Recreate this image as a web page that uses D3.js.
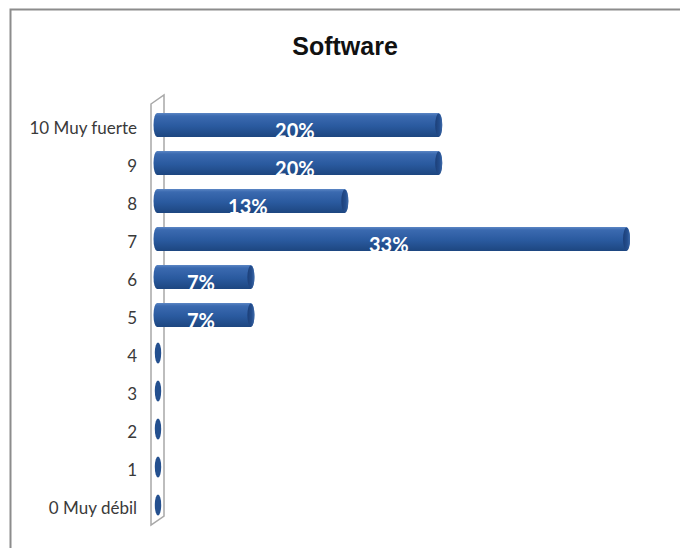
<!DOCTYPE html>
<html><head><meta charset="utf-8">
<script src="https://cdn.jsdelivr.net/npm/d3@7"></script>
<style>html,body{margin:0;padding:0;background:#fff;overflow:hidden}</style>
</head><body>
<svg id="c" width="680" height="548"></svg>
<script>
const categories = ["10 Muy fuerte","9","8","7","6","5","4","3","2","1","0 Muy débil"];
const counts = [3,3,2,5,1,1,0,0,0,0,0];
const total = 15;
const values = counts.map(c => c / total);
const title = "Software";

const svg = d3.select("#c");
const defs = svg.append("defs");
const g1 = defs.append("linearGradient").attr("id","barg").attr("x1",0).attr("y1",0).attr("x2",0).attr("y2",1);
[[0,"#5b86c4"],[0.12,"#3b6ab0"],[0.55,"#2a5a9f"],[1,"#1d4680"]].forEach(s=>g1.append("stop").attr("offset",s[0]).attr("stop-color",s[1]));
const g2 = defs.append("linearGradient").attr("id","capg").attr("x1",0).attr("y1",0).attr("x2",1).attr("y2",0);
[[0,"#1c3f78"],[0.6,"#244e8e"],[1,"#3d69a8"]].forEach(s=>g2.append("stop").attr("offset",s[0]).attr("stop-color",s[1]));

// frame
svg.append("rect").attr("x",10.5).attr("y",9.5).attr("width",720).attr("height",600)
  .attr("fill","#fff").attr("stroke","#8c8c8c").attr("stroke-width",2);

svg.append("text").attr("x",345).attr("y",55).attr("text-anchor","middle")
  .attr("font-family","Liberation Sans, Arial, sans-serif").attr("font-weight","bold")
  .attr("font-size",25).attr("fill","#111").text(title);

const x = d3.scaleLinear().domain([0,0.35]).range([157,650]);
const y = d3.scaleBand().domain(categories).range([106,524]).paddingInner(0.37).paddingOuter(0.185);

// wall
svg.append("path").attr("d","M151,104 L164,95 L164,516 L151,525 Z")
  .attr("fill","#fff").attr("stroke","#a8a8a8").attr("stroke-width",1.5);

const bh = y.bandwidth();
const bars = svg.append("g").selectAll("g").data(categories).join("g");
bars.each(function(d,i){
  const v = values[i];
  const gg = d3.select(this);
  const y0 = y(d), cy = y0 + bh/2;
  const x0 = x(0), x1 = x(v);
  const rx = 3.5;
  if (v > 0) {
    gg.append("path")
      .attr("d",`M${x0},${y0} L${x1},${y0} A${rx},${bh/2} 0 0 1 ${x1},${y0+bh} L${x0},${y0+bh} A${rx},${bh/2} 0 0 1 ${x0},${y0} Z`)
      .attr("fill","url(#barg)");
    gg.append("ellipse").attr("cx",x1).attr("cy",cy).attr("rx",rx).attr("ry",bh/2-0.5)
      .attr("fill","url(#capg)");
    gg.append("text").attr("x",(x0+x1)/2 - 3).attr("y",cy+13).attr("text-anchor","middle")
      .attr("font-family","Liberation Sans Narrow, Lato, sans-serif").attr("font-weight","bold")
      .attr("font-size",20).attr("fill","#fff")
      .text(Math.round(v*100)+"%");
  } else {
    gg.append("ellipse").attr("cx",x0+1).attr("cy",cy).attr("rx",3.2).attr("ry",bh/2-1.5)
      .attr("fill","#24508f");
  }
});

const ax = svg.append("g").attr("transform","translate(145,4)")
  .call(d3.axisLeft(y).tickSize(0).tickPadding(8));
ax.select(".domain").remove();
ax.selectAll("text").attr("font-family","Lato, sans-serif").attr("font-size",17).attr("fill","#3a3a3a");
</script>
</body></html>
